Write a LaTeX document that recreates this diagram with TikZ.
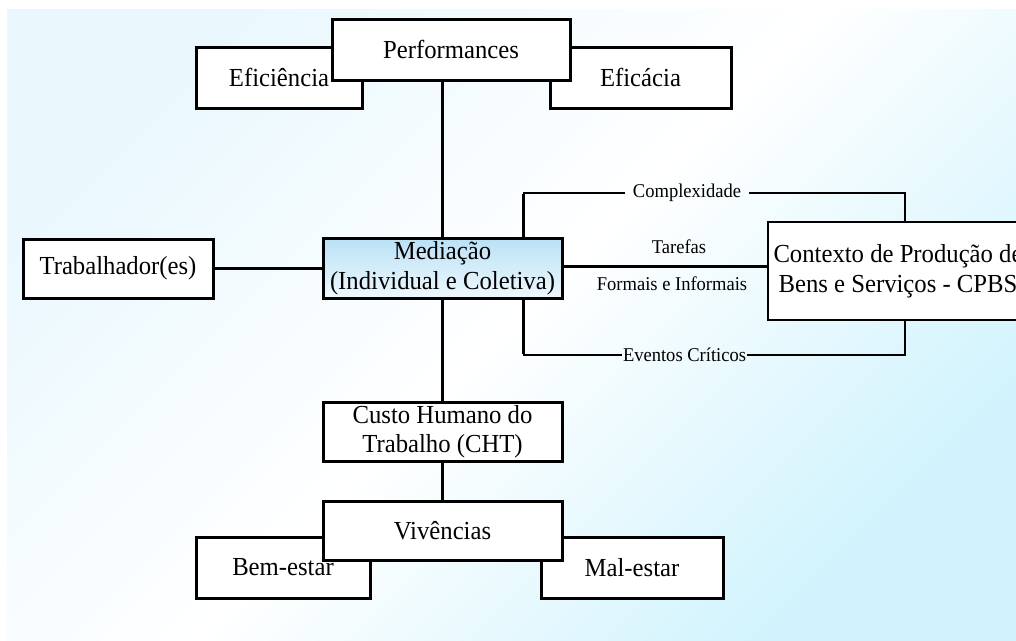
\documentclass[tikz,border=0pt]{standalone}
\usepackage{fontspec}
\setmainfont{Liberation Serif}[FakeStretch=0.95]
\usetikzlibrary{calc}
\definecolor{bgA}{RGB}{234,248,254}
\definecolor{bgB}{RGB}{208,243,253}
\definecolor{medTop}{RGB}{186,225,246}
\definecolor{medBot}{RGB}{238,248,253}
\begin{document}
\begin{tikzpicture}[x=1pt,y=-1pt,
  box/.style={draw=black, line width=3pt, fill=white, rectangle, inner sep=0pt,
    align=center, font=\fontsize{26}{29.5}\selectfont},
  conn/.style={line width=3pt},
  thinconn/.style={line width=2pt},
  lbl/.style={inner sep=0pt, font=\fontsize{19.5}{22}\selectfont}]
\useasboundingbox (0,0) rectangle (1016,640);
\clip (0,0) rectangle (1016,640);
\fill[white] (0,0) rectangle (1016,640);
\shade[top color=bgA, bottom color=bgB, middle color=white, shading angle=45]
  (7,9) rectangle (1016,640);

% top group
\node[box, minimum width=166pt, minimum height=61pt] (eficiencia) at (279,77.5) {Eficiência};
\node[box, minimum width=181pt, minimum height=61pt] (eficacia) at (640.5,77.5) {Eficácia};
\node[box, minimum width=238pt, minimum height=61pt] (perf) at (451,49.5) {Performances};

% middle row
\node[box, minimum width=190pt, minimum height=59pt] (trab) at (118,268.5) {Trabalhador(es)};
\node[box, minimum width=239pt, minimum height=60pt, top color=medTop, bottom color=medBot] (med) at (442.5,268) {Mediação\\(Individual e Coletiva)};
\node[box, line width=2pt, minimum width=260pt, minimum height=98pt] (ctx) at (898,271) {Contexto de Produção de\\Bens e Serviços - CPBS};

% lower group
\node[box, minimum width=239pt, minimum height=59pt] (cht) at (442.5,431.5) {Custo Humano do\\Trabalho (CHT)};
\node[box, minimum width=174pt, minimum height=61pt] (bem) at (283,567.5) {Bem-estar};
\node[box, minimum width=182pt, minimum height=61pt] (mal) at (632,567.5) {Mal-estar};
\node[box, minimum width=239pt, minimum height=59pt] (viv) at (442.5,530.5) {Vivências};

% labels
\node[lbl, inner xsep=8pt] (compl) at (687,193) {Complexidade};
\node[lbl, inner xsep=1pt] (event) at (684.5,355) {Eventos Críticos};
\node[lbl] (taref) at (679,247) {Tarefas};
\node[lbl] (formais) at (672,283.5) {Formais e Informais};

\coordinate (cL) at (523,193);
\coordinate (cR) at (905,193);
\coordinate (eL) at (523,355);
\coordinate (eR) at (905,355);
\coordinate (mr) at (562,266);

% connectors
\draw[conn] (med.north) -- (med.north |- perf.south);
\draw[conn] (trab.east) -- (trab.east -| med.west);
\draw[conn] (mr) -- (mr -| ctx.west);
\draw[conn] (med.south) -- (cht.north);
\draw[conn] (cht.south) -- (viv.north);

\draw[conn] (cL |- med.north) -- ([yshift=-1pt]cL);
\draw[thinconn] (cL) -- (compl.west);
\draw[thinconn] (compl.east) -- (cR) -- (cR |- ctx.north);

\draw[conn] (eL |- med.south) -- ([yshift=1pt]eL);
\draw[thinconn] (eL) -- (event.west);
\draw[thinconn] (event.east) -- (eR) -- (eR |- ctx.south);
\end{tikzpicture}
\end{document}
